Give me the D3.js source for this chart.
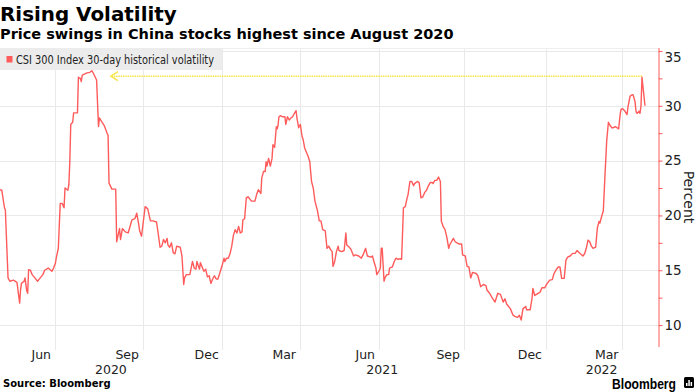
<!DOCTYPE html>
<html><head><meta charset="utf-8">
<script src="https://cdn.jsdelivr.net/npm/d3@7/dist/d3.min.js"></script>
<style>
body{margin:0;background:#fff;}
svg{display:block;}
</style>
</head><body>
<svg id="chart" width="698" height="392"></svg>
<script>
// ---------- DATA ----------
const dates = [
 "2020-04-01","2020-04-03","2020-04-06","2020-04-07","2020-04-10","2020-04-12","2020-04-16","2020-04-20","2020-04-23","2020-04-24",
 "2020-04-25","2020-04-28","2020-04-29","2020-05-01","2020-05-02","2020-05-03","2020-05-05","2020-05-07","2020-05-10","2020-05-13",
 "2020-05-16","2020-05-19","2020-05-21","2020-05-25","2020-05-29","2020-05-31",
 "2020-06-02","2020-06-03","2020-06-05","2020-06-07","2020-06-09","2020-06-11","2020-06-12","2020-06-15","2020-06-16","2020-06-17",
 "2020-06-18","2020-06-20","2020-06-21","2020-06-25","2020-06-26","2020-06-28","2020-06-29","2020-06-30","2020-07-05","2020-07-08",
 "2020-07-10","2020-07-12","2020-07-15","2020-07-17","2020-07-18","2020-07-20","2020-07-23","2020-07-26","2020-07-27","2020-07-28",
 "2020-07-31","2020-08-04","2020-08-05","2020-08-06","2020-08-08","2020-08-09","2020-08-11","2020-08-14","2020-08-17","2020-08-21",
 "2020-08-24","2020-08-26","2020-08-28","2020-08-29","2020-08-31",
 "2020-09-04","2020-09-07","2020-09-10","2020-09-13","2020-09-17","2020-09-19","2020-09-21","2020-09-23","2020-09-25","2020-09-27",
 "2020-09-29","2020-09-30","2020-10-02","2020-10-04","2020-10-06","2020-10-08","2020-10-10","2020-10-14","2020-10-16","2020-10-18",
 "2020-10-19","2020-10-21","2020-10-25","2020-10-28","2020-10-30","2020-11-01","2020-11-02","2020-11-05","2020-11-06","2020-11-09",
 "2020-11-10","2020-11-12","2020-11-14","2020-11-16","2020-11-18","2020-11-20","2020-11-22","2020-11-24","2020-11-26","2020-11-28",
 "2020-12-01",
 "2020-12-03","2020-12-04","2020-12-06","2020-12-08","2020-12-10","2020-12-12","2020-12-14","2020-12-16","2020-12-18","2020-12-20",
 "2020-12-22","2020-12-24","2020-12-25","2020-12-27","2020-12-29","2020-12-31","2021-01-04","2021-01-08","2021-01-10","2021-01-12",
 "2021-01-15","2021-01-16","2021-01-18","2021-01-20","2021-01-21","2021-01-22","2021-01-24","2021-01-26","2021-01-28","2021-01-29",
 "2021-01-31","2021-02-02","2021-02-03","2021-02-04","2021-02-05","2021-02-07","2021-02-09","2021-02-12","2021-02-13","2021-02-15",
 "2021-02-17","2021-02-19","2021-02-21","2021-02-23","2021-02-25","2021-02-26","2021-02-28",
 "2021-03-02","2021-03-04","2021-03-05","2021-03-07","2021-03-11","2021-03-13","2021-03-15","2021-03-17","2021-03-19","2021-03-22",
 "2021-03-24","2021-03-26","2021-03-28","2021-03-31","2021-04-02","2021-04-04","2021-04-06","2021-04-08","2021-04-09","2021-04-11",
 "2021-04-13","2021-04-15","2021-04-16","2021-04-19","2021-04-22","2021-04-24","2021-04-25","2021-04-28","2021-04-30","2021-05-03",
 "2021-05-05","2021-05-09","2021-05-12","2021-05-14","2021-05-17","2021-05-19","2021-05-23","2021-05-25","2021-05-27","2021-05-29",
 "2021-05-30",
 "2021-06-02","2021-06-03","2021-06-04","2021-06-05","2021-06-06","2021-06-07","2021-06-08","2021-06-10","2021-06-12","2021-06-13",
 "2021-06-16","2021-06-18","2021-06-20","2021-06-22","2021-06-25","2021-06-26","2021-06-28","2021-06-30","2021-07-02","2021-07-03",
 "2021-07-05","2021-07-07","2021-07-09","2021-07-10","2021-07-13","2021-07-15","2021-07-17","2021-07-19","2021-07-21","2021-07-23",
 "2021-07-25","2021-07-27","2021-07-29","2021-07-30","2021-08-01","2021-08-03","2021-08-05","2021-08-07","2021-08-08","2021-08-10",
 "2021-08-12","2021-08-14","2021-08-16","2021-08-17","2021-08-19","2021-08-21","2021-08-23","2021-08-25","2021-08-27","2021-08-30",
 "2021-08-31",
 "2021-09-03","2021-09-05","2021-09-07","2021-09-09","2021-09-11","2021-09-15","2021-09-17","2021-09-20","2021-09-23","2021-09-26",
 "2021-09-27","2021-09-30","2021-10-02","2021-10-06","2021-10-09","2021-10-12","2021-10-15","2021-10-17","2021-10-19","2021-10-23",
 "2021-10-26","2021-10-28","2021-10-31","2021-11-02","2021-11-04","2021-11-06","2021-11-09","2021-11-10","2021-11-14","2021-11-16",
 "2021-11-17","2021-11-19","2021-11-21","2021-11-25","2021-11-27","2021-11-30",
 "2021-12-03","2021-12-06","2021-12-09","2021-12-11","2021-12-14","2021-12-16","2021-12-18","2021-12-20","2021-12-23","2021-12-25",
 "2021-12-27","2021-12-30","2022-01-02","2022-01-05","2022-01-07","2022-01-11","2022-01-14","2022-01-16","2022-01-18","2022-01-20",
 "2022-01-22","2022-01-24","2022-01-26","2022-01-29","2022-01-31","2022-02-02","2022-02-03","2022-02-05","2022-02-07","2022-02-09",
 "2022-02-11","2022-02-13","2022-02-15","2022-02-17","2022-02-19","2022-02-21","2022-02-23","2022-02-25","2022-02-27","2022-02-28",
 "2022-03-02","2022-03-04","2022-03-06","2022-03-07","2022-03-09","2022-03-11","2022-03-12","2022-03-14","2022-03-15","2022-03-16",
 "2022-03-18","2022-03-19","2022-03-20","2022-03-21","2022-03-22","2022-03-24"
];
const volatility = [
 22.35,22.3,20.7,20.5,14.3,14.0,14.1,13.9,12.0,13.2,
 13.8,14.0,14.3,13.1,12.9,15.05,15.0,14.6,14.3,14.0,
 14.3,14.6,15.0,15.2,14.9,15.2,
 15.66,16.2,17.0,21.1,21.1,20.7,22.5,22.3,22.8,24.9,
 28.3,28.5,29.35,29.35,32.6,32.5,32.2,32.8,33.0,33.05,
 33.2,32.9,32.35,28.1,28.9,28.6,28.2,27.5,27.3,22.95,
 22.4,22.4,17.6,18.0,18.8,17.8,18.8,18.5,18.4,19.6,
 19.7,20.2,19.2,18.6,18.1,
 20.8,20.6,19.5,19.5,19.4,18.3,17.1,17.2,17.8,17.5,
 17.9,17.3,17.1,17.5,16.6,16.5,17.2,17.1,16.3,13.7,
 14.3,14.6,14.6,15.8,15.2,15.1,15.8,15.1,15.7,15.1,
 14.9,15.1,14.4,14.5,13.8,14.2,14.5,14.2,14.2,14.7,
 15.5,
 16.1,15.8,16.1,16.1,16.5,17.2,18.2,18.7,18.4,19.0,
 18.4,18.5,19.6,19.7,21.6,21.7,21.3,21.3,21.9,22.35,
 22.0,23.4,24.0,24.0,24.9,24.5,25.2,24.5,25.2,26.45,
 26.2,28.1,27.9,28.2,29.0,29.1,29.0,29.0,28.3,29.0,
 28.7,28.9,29.0,29.3,29.55,28.9,28.0,
 28.3,27.2,27.0,26.15,25.4,24.9,23.1,22.5,21.3,20.4,
 19.5,19.5,18.7,18.6,17.0,17.2,16.9,16.7,15.35,15.8,
 16.7,17.2,16.8,16.7,16.8,18.4,17.3,17.1,16.9,16.3,
 16.4,16.3,16.1,16.4,17.0,16.3,16.2,16.3,15.7,15.2,
 14.6,
 15.0,15.2,17.0,17.0,15.5,14.0,14.3,14.6,14.6,15.2,
 15.3,15.8,16.1,16.0,16.05,16.0,20.7,20.8,21.6,21.9,
 23.1,23.1,22.7,22.9,23.1,23.0,21.6,21.7,22.1,22.3,
 22.7,23.0,23.0,22.9,23.2,23.2,23.5,23.1,19.46,19.0,
 18.7,18.0,17.0,17.3,17.6,17.9,17.6,17.5,17.4,17.4,
 16.4,
 16.3,15.35,15.3,14.3,14.8,14.7,14.5,13.5,13.7,13.6,
 13.2,12.9,12.6,12.1,12.9,12.8,12.1,12.4,11.9,11.5,
 10.9,10.8,10.7,10.9,10.46,11.5,11.7,11.4,11.4,12.4,
 13.35,12.7,12.8,13.0,13.4,13.4,
 13.8,14.1,14.15,14.7,15.1,15.3,15.3,14.26,14.26,15.9,
 16.2,16.3,16.54,16.54,16.8,16.5,16.3,16.5,17.0,17.75,
 17.6,17.2,17.0,17.1,18.85,19.46,19.3,19.9,20.4,23.7,
 26.8,28.5,28.2,28.0,28.0,28.1,28.0,27.9,29.3,29.7,
 29.7,29.5,29.2,29.9,30.86,31.0,31.0,30.4,29.5,29.3,
 29.5,29.3,30.0,32.6,31.7,30.0
];
const monthTickDates = ["2020-06-01","2020-09-01","2020-12-01","2021-03-01","2021-06-01","2021-09-01","2021-12-01","2022-03-01"];
const monthTickLabels = ["Jun","Sep","Dec","Mar","Jun","Sep","Dec","Mar"];
const yearLabels = ["2020","2021","2022"];
const yearLabelDates = ["2020-07-30","2021-06-05","2022-02-05"];
const yTickValues = [10,15,20,25,30,35];
const arrowLevel = 32.7;
const arrowDates = ["2022-03-21","2020-07-30"];

// ---------- LAYOUT ----------
const W = 698, H = 392;
const plot = {left:0, right:658.5, top:48, bottom:347};
// pixel positions of the month gridlines (Bloomberg uses a trading-day axis)
const xAnchorPx = [0, 54.5, 142.5, 222.3, 299.5, 378.5, 463.5, 545.5, 622, 645];
const lineColor = "#ff5b5b";
const gridColor = "#e9e9e9";

const parse = d3.timeParse("%Y-%m-%d");
const data = dates.map((d,i)=>({date:parse(d), v:volatility[i]}));
const xDomain = [parse(dates[0])].concat(monthTickDates.map(parse), [parse(dates[dates.length-1])]);
const x = d3.scaleTime().domain(xDomain).range(xAnchorPx);
const y = d3.scaleLinear().domain([8, 35.27]).range([plot.bottom, plot.top]);

const svg = d3.select("#chart");
svg.append("rect").attr("width",W).attr("height",H).attr("fill","#fff");

const FONT = "'DejaVu Sans', sans-serif";

// Title & subtitle
svg.append("text").attr("x",0).attr("y",20.7).text("Rising Volatility")
  .attr("font-family",FONT).attr("font-weight","bold").attr("font-size",19.9).attr("fill","#000");
svg.append("text").attr("x",0).attr("y",39.3).text("Price swings in China stocks highest since August 2020")
  .attr("font-family",FONT).attr("font-weight","bold").attr("font-size",14.5).attr("fill","#000");

// Gridlines
const g = svg.append("g");
g.selectAll("line.h").data(yTickValues).join("line")
  .attr("x1",plot.left).attr("x2",plot.right)
  .attr("y1",d=>Math.round(y(d))+0.5).attr("y2",d=>Math.round(y(d))+0.5)
  .attr("stroke",gridColor).attr("stroke-width",1);
g.selectAll("line.v").data(monthTickDates.map(parse)).join("line")
  .attr("x1",d=>Math.round(x(d))+0.5).attr("x2",d=>Math.round(x(d))+0.5)
  .attr("y1",plot.top).attr("y2",plot.bottom+3)
  .attr("stroke",gridColor).attr("stroke-width",1);
g.append("line").attr("x1",0).attr("x2",plot.right).attr("y1",plot.top+0.5).attr("y2",plot.top+0.5)
  .attr("stroke","#efefef");

// Legend
svg.append("rect").attr("x",0).attr("y",48).attr("width",222).attr("height",22).attr("fill","#ececec");
svg.append("rect").attr("x",6.5).attr("y",56).attr("width",6).attr("height",6.5).attr("fill",lineColor);
svg.append("text").attr("x",16).attr("y",64).text("CSI 300 Index 30-day historical volatility")
  .attr("font-family",FONT).attr("font-size",12).attr("fill","#222")
  .attr("textLength",198).attr("lengthAdjust","spacingAndGlyphs");

// Arrow (yellow dotted)
const ay = y(arrowLevel);
const ax1 = x(parse(arrowDates[0])), ax2 = x(parse(arrowDates[1]));
svg.append("line").attr("x1",ax1).attr("x2",ax2).attr("y1",ay).attr("y2",ay)
  .attr("stroke","#f7e64a").attr("stroke-width",1.5).attr("stroke-dasharray","1.5,0.8");
svg.append("path").attr("d",`M${ax2+7},${ay-4.5} L${ax2},${ay} L${ax2+7},${ay+4.5}`)
  .attr("fill","none").attr("stroke","#f7e64a").attr("stroke-width",1.5);

// Line
const line = d3.line().x(d=>x(d.date)).y(d=>y(d.v));
svg.append("path").datum(data).attr("d",line)
  .attr("fill","none").attr("stroke",lineColor).attr("stroke-width",1.4).attr("stroke-linejoin","round");

// Right axis
const yAxis = d3.axisRight(y).tickValues(d3.range(10,35.01,2.5)).tickSize(4)
  .tickFormat(d=> (d%5===0)? d : "");
const ya = svg.append("g").attr("transform",`translate(${plot.right},0)`).call(yAxis);
ya.select(".domain").attr("stroke",lineColor).attr("d",`M0.5,${plot.top}V${plot.bottom}`);
ya.selectAll(".tick line").attr("stroke",lineColor);
ya.selectAll(".tick text").attr("font-family",FONT).attr("font-size",13.5).attr("fill","#222").attr("x",6)
  .attr("dy", d=> d===35 ? "0.75em" : "0.32em");
svg.append("text").attr("transform",`translate(684,197) rotate(90)`).attr("text-anchor","middle")
  .text("Percent").attr("font-family",FONT).attr("font-size",14).attr("fill","#222");

// Bottom axis (labels right-aligned before each gridline)
const xAxis = d3.axisBottom(x).tickValues(monthTickDates.map(parse)).tickSize(0)
  .tickFormat((d,i)=>monthTickLabels[i]);
const xa = svg.append("g").attr("transform",`translate(0,${plot.bottom})`).call(xAxis);
xa.select(".domain").remove();
xa.selectAll(".tick text").attr("font-family",FONT).attr("font-size",12.5).attr("fill","#222")
  .attr("text-anchor","end").attr("x",-4).attr("y",11.5).attr("dy","0");
svg.selectAll("text.year").data(yearLabels).join("text").attr("class","year")
  .attr("x",(d,i)=>x(parse(yearLabelDates[i]))).attr("y",373.5).attr("text-anchor","middle")
  .text(d=>d).attr("font-family",FONT).attr("font-size",12.5).attr("fill","#222");

// Footer
svg.append("text").attr("x",3).attr("y",387).text("Source: Bloomberg")
  .attr("font-family",FONT).attr("font-weight","bold").attr("font-size",10).attr("fill","#000");
svg.append("text").attr("x",676).attr("y",388.5).attr("text-anchor","end").text("Bloomberg")
  .attr("font-family","'Liberation Sans', Arial, sans-serif").attr("font-weight","bold").attr("font-size",14)
  .attr("fill","#000").attr("textLength",64).attr("lengthAdjust","spacingAndGlyphs");
const logo = svg.append("g").attr("transform","translate(684,377)");
logo.append("rect").attr("width",10).attr("height",11).attr("rx",1.5).attr("fill","#000");
[[2,6,1.5],[4.3,3,1.5],[6.6,5,1.5]].forEach(b=>logo.append("rect").attr("x",b[0]).attr("y",b[1]).attr("width",b[2]).attr("height",9-b[1]).attr("fill","#fff"));
</script>
</body></html>
